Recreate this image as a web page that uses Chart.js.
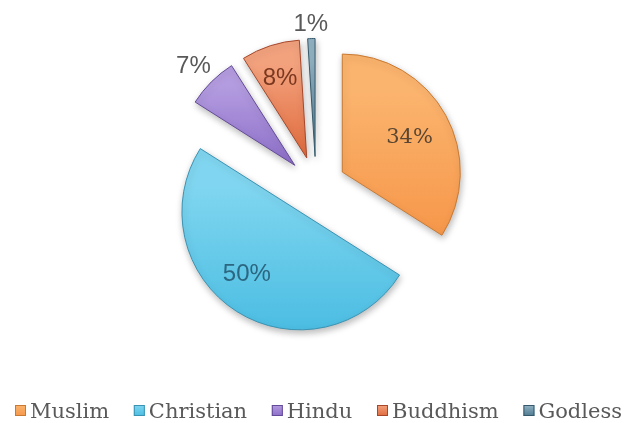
<!DOCTYPE html>
<html>
<head>
<meta charset="utf-8">
<script src="https://cdn.jsdelivr.net/npm/chart.js@4/dist/chart.umd.min.js"></script>
<style>
  html, body { margin: 0; padding: 0; background: #ffffff; }
  #wrap { width: 626px; height: 423px; }
</style>
</head>
<body>
<div id="wrap"><canvas id="religions" width="626" height="423"></canvas></div>
<script>
// Share of each religion, in percent
const categories = ['Muslim', 'Christian', 'Hindu', 'Buddhism', 'Godless'];
const shares = [34, 50, 7, 8, 1];

// Slice styling: gradient light -> dark, and a darker rim
const fillLight = ['#fbb46e', '#80d6f0', '#b49ce0', '#f3a27e', '#93b3c4'];
const fillDark  = ['#f6974a', '#4bbde2', '#8c6ec8', '#e06a3c', '#4d7a90'];
const rimColor  = ['#c97a32', '#3a93b3', '#634a98', '#a6472a', '#35596b'];
const labelInk  = ['#5a4632', '#2c6680', '#595959', '#7a3820', '#595959'];

const EXPLODE = 30;    // how far each slice is pulled out from the centre
const RADIUS = 118;

// Where each percentage sits: inside at a fraction of the radius, or just outside the rim
const labelPlacement = [
  { inside: true, r: 0.65, turn: 0, font: '21px "DejaVu Serif"' },
  { inside: true, r: 0.68, turn: 9, font: '24px "Liberation Sans"' },
  { inside: false, font: '24px "Liberation Sans"' },
  { inside: true, r: 0.73, turn: 0, font: '24px "Liberation Sans"' },
  { inside: false, font: '24px "Liberation Sans"' }
];

function sliceAngles(i) {
  const total = shares.reduce((a, b) => a + b, 0);
  let cum = 0;
  for (let k = 0; k < i; k++) cum += shares[k];
  const a0 = -Math.PI / 2 + 2 * Math.PI * cum / total;
  const a1 = a0 + 2 * Math.PI * shares[i] / total;
  return { a0, a1 };
}

function sliceFill(context) {
  const chart = context.chart;
  const i = context.dataIndex;
  const area = chart.chartArea;
  if (!area || i === undefined) return fillDark[i] || '#ccc';
  const { a0, a1 } = sliceAngles(i);
  const mid = (a0 + a1) / 2;
  const cx = (area.left + area.right) / 2 + EXPLODE * Math.cos(mid);
  const cy = (area.top + area.bottom) / 2 + EXPLODE * Math.sin(mid);
  const ys = [cy, cy + RADIUS * Math.sin(a0), cy + RADIUS * Math.sin(a1)];
  const inRange = (a) => {
    let t = a;
    while (t < a0) t += 2 * Math.PI;
    return t <= a1;
  };
  if (inRange(-Math.PI / 2)) ys.push(cy - RADIUS);
  if (inRange(Math.PI / 2)) ys.push(cy + RADIUS);
  const top = Math.min(...ys), bottom = Math.max(...ys);
  const g = chart.ctx.createLinearGradient(0, top, 0, bottom + 1);
  g.addColorStop(0, fillLight[i]);
  g.addColorStop(0.2, fillLight[i]);
  g.addColorStop(1, fillDark[i]);
  return g;
}

const explodedPie = {
  id: 'explodedPie',
  afterUpdate(chart) {
    chart.getDatasetMeta(0).data.forEach(arc => {
      const mid = (arc.startAngle + arc.endAngle) / 2;
      arc.x += EXPLODE * Math.cos(mid);
      arc.y += EXPLODE * Math.sin(mid);
    });
  },
  beforeDatasetsDraw(chart) {
    const ctx = chart.ctx;
    ctx.save();
    ctx.shadowColor = 'rgba(0, 0, 0, 0.28)';
    ctx.shadowBlur = 7;
    ctx.shadowOffsetX = 1;
    ctx.shadowOffsetY = 3;
  },
  afterDatasetsDraw(chart) {
    const ctx = chart.ctx;
    ctx.restore();
    ctx.save();
    ctx.textAlign = 'center';
    ctx.textBaseline = 'alphabetic';
    chart.getDatasetMeta(0).data.forEach((arc, i) => {
      const place = labelPlacement[i];
      const text = shares[i] + '%';
      ctx.font = place.font;
      const size = parseFloat(place.font);
      const w = ctx.measureText(text).width;
      const h = size * 0.72;
      let ang = (arc.startAngle + arc.endAngle) / 2;
      let dist;
      if (place.inside) {
        ang += place.turn * Math.PI / 180;
        dist = arc.outerRadius * place.r;
      } else {
        const ext = Math.abs(Math.cos(ang)) * w / 2 + Math.abs(Math.sin(ang)) * h / 2;
        dist = arc.outerRadius + 7 + ext;
      }
      const lx = arc.x + dist * Math.cos(ang);
      const ly = arc.y + dist * Math.sin(ang);
      ctx.fillStyle = labelInk[i];
      ctx.fillText(text, lx, ly + h / 2);
    });
    ctx.restore();
  },
  afterDraw(chart) {
    // legend row along the bottom
    const ctx = chart.ctx;
    ctx.save();
    ctx.font = '21px "DejaVu Serif"';
    const box = 11, gap = 4;
    const left = 15, right = 622;
    const widths = categories.map(t => ctx.measureText(t).width);
    const used = widths.reduce((a, w) => a + box + gap + w, 0);
    const spacing = (right - left - used) / (categories.length - 1);
    let x = left;
    const boxTop = 405, baseline = 418;
    categories.forEach((name, i) => {
      const g = ctx.createLinearGradient(0, boxTop, 0, boxTop + box);
      g.addColorStop(0, fillLight[i]);
      g.addColorStop(1, fillDark[i]);
      ctx.fillStyle = g;
      ctx.fillRect(x, boxTop, box, box);
      ctx.strokeStyle = rimColor[i];
      ctx.lineWidth = 1;
      ctx.strokeRect(x + 0.5, boxTop + 0.5, box - 1, box - 1);
      ctx.fillStyle = '#595959';
      ctx.textAlign = 'left';
      ctx.textBaseline = 'alphabetic';
      ctx.fillText(name, x + box + gap, baseline);
      x += box + gap + widths[i] + spacing;
    });
    ctx.restore();
  }
};

new Chart(document.getElementById('religions'), {
  type: 'pie',
  data: {
    labels: categories,
    datasets: [{
      data: shares,
      backgroundColor: sliceFill,
      borderColor: rimColor,
      borderWidth: 1,
      radius: RADIUS
    }]
  },
  options: {
    responsive: false,
    devicePixelRatio: 1,
    animation: false,
    events: [],
    layout: { padding: { top: 0, bottom: 50, left: 6, right: 0 } },
    plugins: {
      legend: { display: false },
      tooltip: { enabled: false }
    }
  },
  plugins: [explodedPie]
});
</script>
</body>
</html>
